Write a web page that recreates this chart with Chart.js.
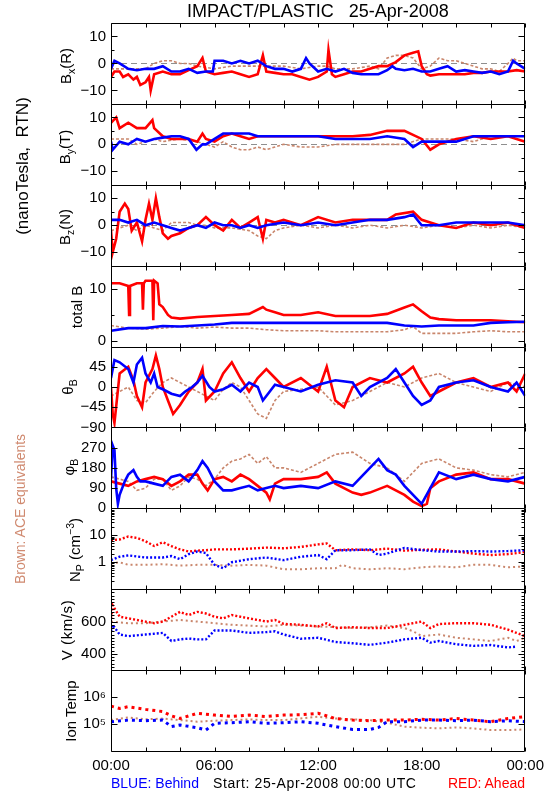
<!DOCTYPE html>
<html><head><meta charset="utf-8">
<script src="https://cdn.jsdelivr.net/npm/chart.js@4.4.1/dist/chart.umd.min.js"></script>
<style>
html,body{margin:0;padding:0;background:#fff;}
#wrap{position:relative;width:550px;height:800px;font-family:"Liberation Sans",Arial,Helvetica,sans-serif;color:#000;overflow:hidden;}
#c{position:absolute;left:0;top:0;}
.t{position:absolute;white-space:nowrap;line-height:1;}
.r{transform:translate(-50%,-50%) rotate(-90deg);}
sub,sup{font-size:70%;line-height:0;}
</style></head><body>
<div id="wrap">
<canvas id="c" width="550" height="800" style="width:550px;height:800px"></canvas>
<div class="t" style="left:318px;top:11px;transform:translate(-50%,-50%);font-size:18px;">IMPACT/PLASTIC&nbsp;&nbsp;&nbsp;25-Apr-2008</div>
<div class="t r" style="left:22px;top:166px;font-size:17px;">(nanoTesla,&nbsp; RTN)</div>
<div class="t r" style="left:20px;top:509px;font-size:14px;color:#d08a70;">Brown: ACE equivalents</div>
<div class="t r" style="left:65px;top:66px;font-size:15px;">B<sub>x</sub>(R)</div>
<div class="t r" style="left:64px;top:147px;font-size:15px;">B<sub>y</sub>(T)</div>
<div class="t r" style="left:64px;top:227px;font-size:15px;">B<sub>z</sub>(N)</div>
<div class="t r" style="left:76px;top:307px;font-size:15px;">total B</div>
<div class="t r" style="left:67px;top:387px;font-size:15px;">θ<sub>B</sub></div>
<div class="t r" style="left:68px;top:467px;font-size:15px;">φ<sub>B</sub></div>
<div class="t r" style="left:74px;top:550px;font-size:15px;">N<sub>P</sub> (cm<sup>−3</sup>)</div>
<div class="t r" style="left:66px;top:630px;font-size:15px;letter-spacing:0.6px;">V (km/s)</div>
<div class="t r" style="left:70px;top:711px;font-size:15px;">Ion Temp</div>
<div class="t" style="left:111px;top:776px;font-size:14px;color:#0000ff;">BLUE: Behind</div>
<div class="t" style="left:213px;top:776px;font-size:14px;letter-spacing:0.6px;">Start: 25-Apr-2008 00:00 UTC</div>
<div class="t" style="right:25px;top:776px;font-size:14px;color:#ff0000;">RED: Ahead</div>
</div>
<script>
// ---------- DATA (hours since 25-Apr-2008 00:00 UTC, value) ----------
const hourTicks = [0, 6, 12, 18, 24];

const bxBlue = [[0,-2],[0.2,1],[0.5,0],[1,-2],[1.5,-2.5],[2,-2],[2.5,-2],[3,-1],[3.5,-3],[4,-3],[4.5,-2],[5,-3.5],[5.5,-3],[5.9,-3],[6,1],[6.5,1],[7,0],[7.5,1],[8,0],[8.5,1],[9,-1],[9.5,-2],[10,-2],[10.5,-3],[11,-2],[11.3,2],[11.5,0],[12,-3],[12.5,-2],[13,-3],[13.5,-2],[14,-3.5],[14.5,-4],[15,-4],[15.5,-4],[16,-2.5],[16.3,-1],[16.5,-2],[17,-2.5],[17.5,-2],[18,-3],[18.5,-3],[19,-2],[19.5,-1],[20,-3],[20.5,-2.5],[21,-3],[21.5,-3.5],[22,-3],[22.5,-4],[23,-3],[23.3,1],[23.5,0],[24,-2]];
const bxRed = [[0,-5],[0.2,-3],[0.5,-3],[0.7,-5],[1,-4],[1.3,-6],[1.5,-5],[1.7,-8],[2,-7],[2.2,-5],[2.3,-10],[2.5,-4],[3,-3],[3.5,-4],[4,-4],[4.5,-2.5],[5,-1],[5.3,2],[5.5,-3],[6,-4],[6.5,-3.5],[7,-3],[7.5,-4],[8,-5],[8.5,-4],[8.8,3],[9,-3],[9.5,-3.5],[10,-4],[10.5,-4],[11,-5],[11.5,-6],[12,-5],[12.5,-3],[12.6,5],[12.8,-4],[13,-5],[13.5,-4],[14,-3],[14.5,-3],[15,-2],[15.5,-1],[16,-1],[16.5,0.5],[17,3],[17.5,4],[17.8,4.5],[18,-1],[18.3,-4],[18.5,-4.5],[19,-4],[19.5,-4],[20,-4],[20.5,-4],[21,-3.5],[21.5,-3.5],[22,-3],[22.5,-3],[23,-3],[23.5,-2.5],[24,-3]];
const bxAce = [[0,-2],[1,-2],[2,-2],[2.5,0],[3,1],[3.5,1],[4,0],[4.5,0],[5,-1],[6,-2],[7,-1],[8,-1],[9,-1],[10,-1],[11,-2],[11.5,-1.5],[12,-1],[12.5,-1],[13,-2],[14,-2],[15,-1],[15.5,-2],[16,2],[16.5,3],[17,3],[17.5,2],[18,-2],[18.5,-1],[19,2],[19.5,1],[20,1],[20.5,0],[21,-1],[21.5,-2],[22,-2],[22.5,-3],[23,0],[23.3,2],[23.5,1],[24,1]];

const byBlue = [[0,1],[0.1,-2],[0.5,1],[1,0],[1.5,2],[2,1],[2.5,2],[3,2.5],[3.5,3],[4,3],[4.5,2],[4.95,-2],[5.3,0],[5.5,0],[6,2],[6.5,4],[7,4],[7.5,4],[8,4],[8.5,3],[9,3],[9.5,3],[10,3],[11,3],[12,3],[13,2],[14,2],[15,2],[16,3],[17,2],[17.5,-1],[18,1],[19,1],[20,1],[21,3],[22,3],[23,3],[24,3]];
const byRed = [[0,8],[0.3,10],[0.5,6],[1,8],[1.5,6],[2,6],[2.4,9],[2.5,6],[3,3],[3.5,2],[4,2],[4.5,2],[5,1],[5.3,4],[5.5,2],[6,1],[6.5,3],[7,4],[7.5,3],[8,2],[8.5,3],[9,3],[9.5,3],[10,3],[11,3],[12,3],[13,3],[14,3],[15,3.5],[16,5],[17,5],[18,2],[18.5,-2],[19,0],[20,2],[21,3],[22,2],[23,3],[24,1]];
const byAce = [[0,2],[1,2],[1.5,0],[2,1],[2.5,2],[3,1],[4,2],[5,1],[5.5,0],[6,-1],[6.5,1],[7,-1],[7.5,-2],[8,-2],[8.5,-1],[9,-2],[9.5,-1],[10,0],[11,-1],[12,-1],[13,0],[14,0],[15,0],[16,0],[17,0],[18,2],[19,2],[20,2],[21,1],[22,3],[23,3],[24,3]];

const bzBlue = [[0,2],[0.5,2],[1,1],[1.5,2],[2,0],[2.5,1],[3,0],[3.5,-1],[4,-2],[4.5,-1],[5,0],[5.5,-1],[6,1],[6.5,0],[7,0],[7.5,-1],[8,0],[8.5,-1],[9,0],[10,1],[11,0],[12,1],[13,0],[14,1],[15,2],[16,2],[17,3],[17.5,4],[18,0],[19,0],[20,1],[21,1],[22,1],[23,1],[24,0]];
const bzRed = [[0,-2],[0.1,-10],[0.3,-5],[0.5,5],[0.8,8],[1,6],[1.2,-2],[1.5,1],[1.8,-6],[2,2],[2.2,8],[2.4,2],[2.6,10],[2.8,3],[3,-3],[3.3,-5],[3.5,-4],[4,-3],[4.5,-1],[5,0],[5.5,3],[6,0],[6.5,-2],[7,2],[7.5,-1],[8,1],[8.5,3],[8.8,-5],[9,2],[9.5,1],[10,2],[11,0],[12,3],[13,1],[14,2],[15,2],[16,2],[16.5,4],[17.5,5],[18,2],[19,0],[20,-1],[21,1],[22,0],[23,1],[24,-1]];
const bzAce = [[0,-2],[0.5,-1],[1,0],[1.5,-2],[2,0],[2.5,-1],[3,-2],[3.5,1],[4,1],[4.5,1],[5,0],[5.5,0],[6,-1],[7,-1],[8,-2],[8.5,-4],[9,-5],[9.5,-2],[10,-1],[11,0],[12,-1],[13,0],[14,-1],[15,0],[16,-1],[17,0],[18,-1],[19,0],[20,-1],[21,0],[22,-1],[23,0],[24,-1]];

const btBlue = [[0,2],[1,2.5],[2,2.5],[3,2.9],[4,2.8],[5,3],[6,3.2],[7,3.5],[8,3.5],[9,3.5],[10,3.5],[12,3.5],[14,3.5],[15,3.5],[16,3.5],[17,3],[18,2.8],[19,3],[20,3],[21,3],[22,3.5],[23,3.6],[24,3.7]];
const btRed = [[0,11],[0.5,11],[1,10.5],[1.05,5],[1.1,10.5],[1.5,11],[1.8,11],[1.85,6],[1.9,11],[2,11.5],[2.4,11.5],[2.45,4],[2.5,11.5],[2.7,11],[2.8,7],[3,6.5],[3.3,5],[3.5,4.5],[4,4.3],[5,4.6],[6,4.8],[7,5],[8,5.2],[8.8,6.5],[9,6],[9.5,5.5],[10,5],[11,5],[12,5.5],[13,4.8],[14,4.8],[15,4.8],[16,5.2],[17,6.4],[17.5,7],[18,5.7],[18.5,4.5],[19,4.2],[20,4],[21,4],[22,4],[23,3.8],[24,3.6]];
const btAce = [[0,3],[1,2.5],[2,2.3],[3,2.5],[4,2.8],[5,2.5],[6,2.7],[7,2.5],[8,2.5],[9,2.2],[10,2],[11,2],[12,2],[13,1.8],[15,1.8],[16,1.8],[17,2.2],[17.5,2.8],[18,1.5],[19,1.5],[20,1.5],[21,1.8],[22,2],[23,1.8],[24,1.8]];

const thBlue = [[0,20],[0.2,60],[0.5,55],[1,40],[1.3,10],[1.5,50],[1.8,65],[2,30],[2.3,10],[2.5,30],[2.7,0],[3,-5],[3.5,-15],[4,-20],[4.3,-10],[4.7,0],[5,10],[5.3,25],[5.7,0],[6,-10],[6.5,-5],[7,5],[7.5,-10],[8,10],[8.5,0],[8.8,-30],[9,-20],[9.5,5],[10,0],[11,-10],[12,5],[13,15],[14,10],[14.5,-20],[15,0],[16,20],[16.5,40],[17,10],[17.5,-20],[18,-40],[18.5,-30],[19,0],[20,10],[21,15],[22,0],[23,-10],[23.5,10],[24,-20]];
const thRed = [[0,0],[0.1,-60],[0.2,-80],[0.5,30],[1,45],[1.3,15],[1.5,-20],[1.8,-45],[2,10],[2.4,40],[2.6,70],[2.8,40],[3,0],[3.3,-30],[3.6,-60],[4,-40],[4.5,-10],[5,10],[5.3,40],[5.5,-30],[6,-10],[6.5,30],[7,55],[7.5,20],[8,-10],[8.5,20],[9,40],[9.5,20],[10,0],[11,20],[12,-10],[12.5,45],[13,-30],[13.5,-45],[14,0],[15,20],[16,10],[17,30],[17.5,45],[18,10],[18.5,-20],[19,-10],[20,10],[21,20],[22,0],[23,10],[23.5,-10],[24,30]];
const thAce = [[0,-20],[0.5,-10],[1,0],[1.5,-30],[2,-35],[2.5,-10],[3,10],[3.5,20],[4,10],[4.5,0],[5,-10],[5.5,-20],[6,-30],[6.5,-5],[7,10],[7.5,0],[8,-30],[8.5,-60],[9,-70],[9.5,-30],[10,-10],[11,-5],[12,0],[12.5,-20],[13,-40],[14,-30],[15,-10],[16,10],[17,0],[18,20],[19,30],[20,10],[21,0],[22,-10],[23,10],[24,0]];

const phBlue = [[0,130],[0.1,280],[0.2,260],[0.3,90],[0.4,20],[0.5,60],[0.8,120],[1,150],[1.3,170],[1.5,140],[1.7,120],[2,120],[2.5,110],[3,100],[3.5,140],[4,150],[4.5,120],[5,170],[5.3,210],[5.6,180],[6,120],[6.5,80],[7,80],[7.5,90],[8,100],[8.5,80],[9,90],[9.5,100],[10,90],[11,100],[12,90],[13,120],[14,100],[15,180],[15.5,220],[16,170],[16.5,150],[17,100],[17.5,60],[18,20],[18.5,90],[19,160],[20,130],[21,150],[22,130],[23,120],[24,140]];
const phRed = [[0,120],[0.5,110],[1,100],[1.5,120],[2,130],[2.5,140],[3,130],[3.5,100],[4,120],[4.5,150],[5,150],[5.3,110],[5.6,80],[6,130],[6.5,140],[7,120],[7.5,150],[8,130],[8.5,100],[9,70],[9.2,40],[9.5,110],[10,130],[11,130],[12,140],[12.5,160],[13,110],[14,70],[14.5,60],[15,70],[16,100],[17,60],[17.5,30],[18,10],[18.3,20],[18.5,90],[19,120],[20,150],[21,160],[22,130],[23,130],[24,110]];
const phAce = [[0,140],[0.5,130],[1,120],[1.5,80],[2,90],[2.5,130],[3,130],[3.5,80],[4,100],[4.5,140],[5,130],[5.5,100],[6,130],[6.5,180],[7,210],[7.5,220],[8,240],[8.5,200],[9,230],[9.5,180],[10,180],[11,160],[12,200],[13,240],[14,250],[15,200],[16,180],[17,120],[18,200],[19,220],[20,180],[21,170],[22,150],[23,140],[24,160]];

const npBlue = [[0,1.2],[0.5,1.6],[1,1.8],[2,1.5],[3,1.5],[3.5,1.7],[4,1.3],[4.5,2],[5,2.5],[5.5,2.2],[6,0.8],[6.5,0.6],[7,1],[8,1.3],[9,1.5],[10,1.2],[11,1.6],[12,1.85],[12.5,1.3],[13,2.8],[14,2.8],[15,3],[15.5,1.85],[16,2.1],[17,3.4],[18,2.8],[19,2.5],[20,2.5],[21,2.6],[22,2.5],[23,2.6],[24,2.8]];
const npRed = [[0,6.6],[0.5,7],[1,9],[1.5,8],[2,6],[2.5,4],[3,5.5],[3.5,4],[4,3],[4.5,2.5],[5,2.7],[5.5,2.8],[6,3],[7,3],[8,3.2],[9,3.5],[10,3.3],[11,3.7],[12,4.6],[12.5,5],[13,2.8],[14,3],[15,2.8],[16,3.2],[17,2.7],[18,2.9],[19,3],[20,2.5],[21,2.1],[22,1.85],[23,2],[24,2.4]];
const npAce = [[0,0.9],[0.5,1],[1,0.8],[2,0.8],[3,0.85],[4,0.75],[5,0.8],[6,0.8],[7,0.75],[8,0.8],[9,0.75],[10,0.55],[11,0.55],[12,0.6],[13,0.6],[13.4,0.8],[14,0.6],[15,0.55],[16,0.6],[17,0.55],[18,0.65],[19,0.7],[20,0.65],[21,0.8],[22,0.8],[23,0.65],[24,0.7]];

const vBlue = [[0,540],[0.1,580],[0.5,520],[1,510],[1.5,515],[2,520],[2.5,525],[3,530],[3.5,480],[4,490],[4.5,495],[5,490],[5.5,490],[6,545],[7,545],[8,530],[9,535],[9.5,540],[10,520],[11,494],[12,500],[13,474],[14,466],[15,456],[16,470],[17,490],[18,500],[18.5,470],[19,480],[20,460],[21,450],[22,455],[23,440],[23.5,445]];
const vRed = [[0,620],[0.1,700],[0.5,630],[1,620],[1.5,610],[2,600],[2.5,590],[3,600],[3.5,630],[4,660],[4.5,640],[5,660],[5.5,650],[6,630],[6.5,620],[7,640],[8,620],[9,600],[9.5,610],[10,586],[11,580],[12,570],[12.5,590],[13,560],[14,565],[15,560],[16,560],[17,580],[18,600],[18.5,560],[19,585],[20,590],[21,590],[22,580],[23,550],[23.5,530],[24,510]];
const vAce = [[0,600],[1,590],[2,590],[3,600],[4,610],[5,600],[6,590],[7,580],[8,575],[9,570],[10,580],[11,575],[12,570],[13,565],[14,560],[15,565],[16,575],[17,560],[17.5,540],[18,510],[19,520],[20,500],[21,490],[22,480],[23,500],[23.5,480],[24,500]];

const tBlue = [[0,1.22e5],[1,1.4e5],[2,1.33e5],[3,1.4e5],[3.5,0.8e5],[4,0.92e5],[5,0.73e5],[5.5,0.6e5],[6,1.06e5],[7,1.12e5],[8,1.22e5],[9,1.06e5],[10,1.12e5],[11,1.22e5],[12,1.06e5],[13,0.8e5],[14,0.63e5],[15,0.63e5],[15.5,0.75e5],[16,1.22e5],[17,1.22e5],[18,1.4e5],[19,1.4e5],[20,1.33e5],[21,1.4e5],[22,1.22e5],[23,1.33e5],[24,1.22e5]];
const tRed = [[0,4.6e5],[0.5,3.8e5],[1,4.4e5],[2,3.5e5],[3,2.9e5],[3.5,2.0e5],[4,1.6e5],[5,2.5e5],[6,2.15e5],[7,1.9e5],[8,2.15e5],[9,1.9e5],[10,2.15e5],[11,2.2e5],[12,2.5e5],[13,1.6e5],[14,1.4e5],[15,1.33e5],[16,1.4e5],[17,1.4e5],[18,1.5e5],[19,1.4e5],[20,1.6e5],[21,1.4e5],[22,1.22e5],[23,1.6e5],[24,1.9e5]];
const tAce = [[0,1.4e5],[1,1.76e5],[2,1.49e5],[3,1.6e5],[4,1.4e5],[5,1.22e5],[6,1.33e5],[7,1.4e5],[8,1.49e5],[9,1.4e5],[10,1.4e5],[12,1.87e5],[13,1.6e5],[14,1.49e5],[15,1.4e5],[16,1.12e5],[17,0.8e5],[18,0.73e5],[19,0.69e5],[20,0.75e5],[21,0.69e5],[22,0.6e5],[23,0.6e5],[24,0.63e5]];

// tick values per panel
const magTicks = [-10, 0, 10];
const btTicks = [0, 10];
const thTicks = [-90, -45, 0, 45];
const phTicks = [0, 90, 180, 270];
const npTicks = [1, 10];
const vTicks = [400, 600];
const tTicks = [1e5, 1e6];

// ---------- CHART ----------
const FONT = '"Liberation Sans", Arial, Helvetica, sans-serif';
const COL = {blue:'#0000ff', red:'#ff0000', ace:'#c9866c'};
const minus = v => String(v).replace('-', '\u2212');
const supDigits = {'0':'\u2070','1':'\u00b9','2':'\u00b2','3':'\u00b3','4':'\u2074','5':'\u2075','6':'\u2076','7':'\u2077','8':'\u2078','9':'\u2079'};
const pow10 = v => '10' + String(Math.round(Math.log10(v))).split('').map(d => supDigits[d]).join('');

function range(a, b, s) { const r = []; for (let v = a; v <= b + 1e-9; v += s) r.push(+v.toFixed(6)); return r; }
function logMinor(lo, hi) { const r = []; for (let d = lo; d < hi; d *= 10) for (let k = 2; k <= 9; k++) r.push(d * k); return r; }

const panels = [
  {id:'y1', type:'linear', min:-15, max:15, labels:magTicks, major:magTicks, minor:[-5,5], zero:true, sets:[bxBlue,bxRed,bxAce], kind:'mag', fmt:minus},
  {id:'y2', type:'linear', min:-15, max:15, labels:magTicks, major:magTicks, minor:[-5,5], zero:true, sets:[byBlue,byRed,byAce], kind:'mag', fmt:minus},
  {id:'y3', type:'linear', min:-15, max:15, labels:magTicks, major:magTicks, minor:[-5,5], zero:true, sets:[bzBlue,bzRed,bzAce], kind:'mag', fmt:minus},
  {id:'y4', type:'linear', min:-1, max:14.35, labels:btTicks, major:[0,10], minor:[5], zero:false, sets:[btBlue,btRed,btAce], kind:'mag', fmt:minus},
  {id:'y5', type:'linear', min:-90, max:90, labels:thTicks, major:[-45,0,45], minor:[], zero:false, sets:[thBlue,thRed,thAce], kind:'mag', fmt:minus},
  {id:'y6', type:'linear', min:0, max:360, labels:phTicks, major:[90,180,270], minor:[], zero:false, sets:[phBlue,phRed,phAce], kind:'mag', fmt:minus},
  {id:'y7', type:'logarithmic', min:0.1, max:100, labels:npTicks, major:[1,10], minor:logMinor(0.1,100), zero:false, sets:[npBlue,npRed,npAce], kind:'pl', fmt:v=>String(v)},
  {id:'y8', type:'linear', min:300, max:800, labels:vTicks, major:vTicks, minor:range(300,800,20), zero:false, sets:[vBlue,vRed,vAce], kind:'pl', fmt:v=>String(v)},
  {id:'y9', type:'logarithmic', min:1e4, max:1e7, labels:tTicks, major:tTicks, minor:[], zero:false, sets:[tBlue,tRed,tAce], kind:'temp', fmt:pow10}
];

const scales = {
  x: {
    type:'linear', min:0, max:24, position:'bottom',
    grid:{display:false, drawTicks:false}, border:{display:false},
    ticks:{padding:6, color:'#000', font:{family:FONT, size:15}, maxRotation:0, autoSkip:false,
      callback:v => String(v % 24).padStart(2,'0') + ':00'},
    afterBuildTicks: s => { s.ticks = hourTicks.map(v => ({value:v})); },
    afterFit: s => { s.height = 49; }
  }
};
panels.forEach((p, i) => {
  scales[p.id] = {
    type:p.type, min:p.min, max:p.max, position:'left', stack:'panels', stackWeight:1, weight:100 - i,
    grid:{display:false, drawTicks:false}, border:{display:false},
    ticks:{padding:5, color:'#000', font:{family:FONT, size:15}, autoSkip:false, maxRotation:0,
      callback:v => p.fmt(v)},
    afterBuildTicks: s => { s.ticks = p.labels.map(v => ({value:v})); },
    afterFit: s => { s.width = 111; }
  };
});

// line styles per panel kind: [blue, red, ace]
const styles = {
  mag:  [{w:2.6, dash:[]}, {w:2.6, dash:[]}, {w:1.6, dash:[3,2]}],
  pl:   [{w:2.4, dash:[2,2]}, {w:2.4, dash:[2,2]}, {w:2, dash:[2,3]}],
  temp: [{w:3, dash:[3,4]}, {w:3, dash:[3,4]}, {w:2, dash:[2,3]}]
};
const datasets = [];
const names = ['Behind','Ahead','ACE'];
const cols = [COL.blue, COL.red, COL.ace];
panels.forEach(p => {
  p.sets.forEach((d, k) => {
    const st = styles[p.kind][k];
    datasets.push({
      label: p.id + ' ' + names[k], data: d, yAxisID: p.id, xAxisID: 'x',
      borderColor: cols[k], backgroundColor: cols[k],
      borderWidth: st.w, borderDash: st.dash, borderCapStyle: 'butt', borderJoinStyle: 'miter',
      pointRadius: 0, tension: 0, order: k + 1, spanGaps: true
    });
  });
});

const framePlugin = {
  id:'frame',
  beforeDatasetsDraw(chart) {
    const ctx = chart.ctx, ca = chart.chartArea;
    ctx.save();
    ctx.strokeStyle = '#8f8f8f'; ctx.lineWidth = 1; ctx.setLineDash([6,4]);
    panels.forEach(p => {
      if (!p.zero) return;
      const y = Math.round(chart.scales[p.id].getPixelForValue(0)) + 0.5;
      ctx.beginPath(); ctx.moveTo(ca.left, y); ctx.lineTo(ca.right, y); ctx.stroke();
    });
    ctx.restore();
  },
  afterDatasetsDraw(chart) {
    const ctx = chart.ctx, ca = chart.chartArea, xs = chart.scales.x;
    ctx.save();
    ctx.strokeStyle = '#000'; ctx.lineWidth = 1; ctx.setLineDash([]);
    const L = Math.round(ca.left) + 0.5, R = Math.round(ca.right) - 0.5;
    const xt = range(0, 24, 2);
    panels.forEach(p => {
      const s = chart.scales[p.id];
      const top = Math.round(s.top) + 0.5, bot = Math.round(s.bottom) + 0.5;
      ctx.beginPath();
      ctx.rect(L, top, R - L, bot - top);
      xt.forEach(h => {
        const x = Math.round(xs.getPixelForValue(h)) + 0.5;
        ctx.moveTo(x, top); ctx.lineTo(x, top + 4);
        ctx.moveTo(x, bot); ctx.lineTo(x, bot - 4);
      });
      p.major.forEach(v => {
        const y = Math.round(s.getPixelForValue(v)) + 0.5;
        ctx.moveTo(L, y); ctx.lineTo(L + 6, y);
        ctx.moveTo(R, y); ctx.lineTo(R - 6, y);
      });
      p.minor.forEach(v => {
        const y = Math.round(s.getPixelForValue(v)) + 0.5;
        ctx.moveTo(L, y); ctx.lineTo(L + 3, y);
        ctx.moveTo(R, y); ctx.lineTo(R - 3, y);
      });
      ctx.stroke();
    });
    ctx.restore();
  }
};

new Chart(document.getElementById('c'), {
  type:'line',
  data:{datasets},
  options:{
    responsive:false, animation:false, devicePixelRatio:1,
    layout:{padding:{left:0, right:24, top:23, bottom:0}},
    plugins:{legend:{display:false}, tooltip:{enabled:false}, title:{display:false}},
    scales
  },
  plugins:[framePlugin]
});
</script>
</body></html>
